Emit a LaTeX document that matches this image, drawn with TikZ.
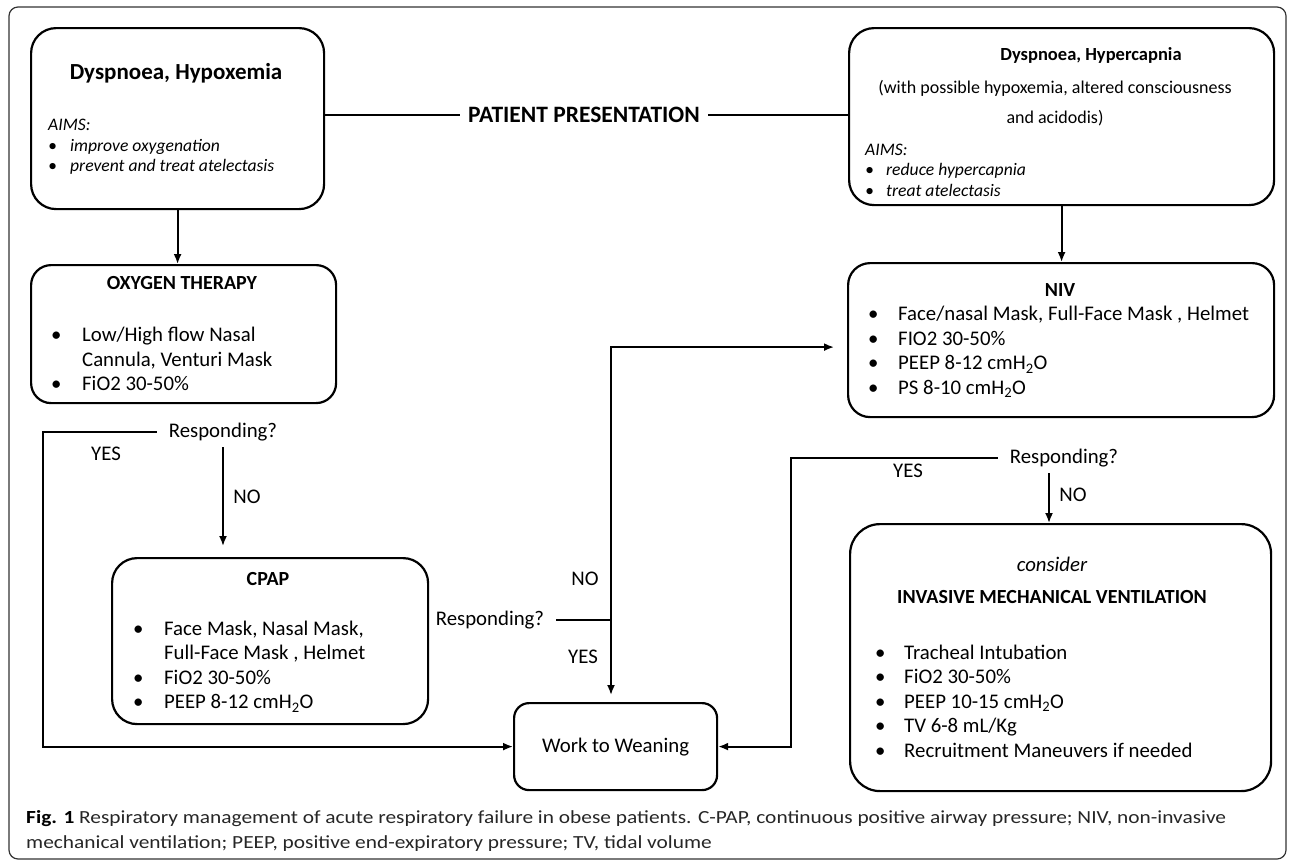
\documentclass[tikz,border=0pt]{standalone}
\usepackage{fontspec}
\setmainfont{Carlito}
\usetikzlibrary{arrows.meta, calc}

% bullet with a fixed indent
\newcommand{\itm}[1][31pt]{\makebox[#1][l]{\textbullet}}

\begin{document}
\begin{tikzpicture}[x=1pt, y=-1pt,
    box/.style={draw, line width=2.2pt, rounded corners=#1, inner sep=0pt, anchor=north west},
    txt/.style={inner sep=0pt, font=\fontsize{20.8}{24.5}\selectfont},
    ttl/.style={inner sep=0pt, font=\bfseries\fontsize{20}{24}\selectfont},
    lst/.style={txt, align=left, anchor=west},
    aims/.style={lst, font=\itshape\fontsize{17.6}{20.5}\selectfont},
    ask/.style={txt, inner xsep=12pt, inner ysep=6pt},
    lin/.style={line width=1.8pt},
    arr/.style={line width=1.8pt, -{Latex[length=10pt, width=8pt]}}]

    \useasboundingbox (0,0) rectangle (1290,862);

    % outer frame
    \draw[line width=1.2pt, black!80, rounded corners=9pt] (9,7) rectangle (1286,859);

    % first presentation
    \node[box=25pt, minimum width=293pt, minimum height=181pt] (hypox) at (30,27) {};
    \node[ttl, font=\bfseries\fontsize{23}{27}\selectfont] (hypoxT) at (176,73) {Dyspnoea, Hypoxemia};
    \node[aims] (hypoxA) at (48,147) {AIMS:\\\itm[22pt]improve oxygenation\\\itm[22pt]prevent and treat atelectasis};

    % second presentation
    \node[box=25pt, minimum width=425pt, minimum height=177pt] (hypercap) at (848,27) {};
    \node[ttl, font=\bfseries\fontsize{18.5}{22}\selectfont] (hypercapT) at (1091,55) {Dyspnoea, Hypercapnia};
    \node[txt, align=center, font=\fontsize{18}{30}\selectfont] (hypercapS) at (1055,103) {(with possible hypoxemia, altered consciousness\\and acidodis)};
    \node[aims] (hypercapA) at (865,170) {AIMS:\\\itm[21pt]reduce hypercapnia\\\itm[21pt]treat atelectasis};

    \node[ttl, font=\bfseries\fontsize{23.5}{27}\selectfont, inner xsep=8pt] (pp) at (584,115) {PATIENT PRESENTATION};

    % oxygen therapy
    \node[box=20pt, minimum width=305pt, minimum height=138pt] (oxy) at (30,264) {};
    \node[ttl] (oxyT) at (182,283) {OXYGEN THERAPY};
    \node[lst] (oxyL) at (51,359) {\itm Low/High flow Nasal\\\hspace*{31pt}Cannula, Venturi Mask\\\itm FiO2 30-50\%};

    \node[ask] (resp1) at (223,432) {Responding?};
    \node[txt] (yes1) at (106,454) {YES};
    \node[txt] (no1) at (247,497) {NO};

    % cpap
    \node[box=25pt, minimum width=316pt, minimum height=166pt] (cpap) at (111,557) {};
    \node[ttl] (cpapT) at (268,579) {CPAP};
    \node[lst] (cpapL) at (133,666.5) {\itm Face Mask, Nasal Mask,\\\hspace*{31pt}Full-Face Mask , Helmet\\\itm FiO2 30-50\%\\\itm PEEP 8-12 cmH\textsubscript{2}O};

    \node[ask] (resp2) at (490,620) {Responding?};
    \node[txt] (no2) at (585,579) {NO};
    \node[txt] (yes2) at (583,657) {YES};

    % weaning
    \node[box=15pt, minimum width=203pt, minimum height=87pt] (work) at (513,702) {};
    \node[txt] (workT) at (work.center) {Work to Weaning};

    % niv
    \node[box=22pt, minimum width=426pt, minimum height=154pt] (niv) at (847,262) {};
    \node[ttl] (nivT) at (1060,290) {NIV};
    \node[lst] (nivL) at (868,352) {\itm[30pt]Face/nasal Mask, Full-Face Mask , Helmet\\\itm[30pt]FIO2 30-50\%\\\itm[30pt]PEEP 8-12 cmH\textsubscript{2}O\\\itm[30pt]PS 8-10 cmH\textsubscript{2}O};

    \node[ask] (resp3) at (1064,458) {Responding?};
    \node[txt] (yes3) at (908,471) {YES};
    \node[txt] (no3) at (1073,495) {NO};

    % invasive ventilation
    \node[box=30pt, minimum width=421pt, minimum height=267pt] (imv) at (849,523) {};
    \node[txt, font=\itshape\fontsize{20.8}{24}\selectfont] (imvC) at (1052,564) {consider};
    \node[ttl] (imvT) at (1052,597) {INVASIVE MECHANICAL VENTILATION};
    \node[lst] (imvL) at (875,701) {\itm[29pt]Tracheal Intubation\\\itm[29pt]FiO2 30-50\%\\\itm[29pt]PEEP 10-15 cmH\textsubscript{2}O\\\itm[29pt]TV 6-8 mL/Kg\\\itm[29pt]Recruitment Maneuvers if needed};

    % caption
    \node[lst, font=\fontsize{18.5}{25}\selectfont, text=black!85] (cap) at (26,830.5) {\scalebox{1.155}[1]{\textbf{\color{black}Fig. 1} Respiratory management of acute respiratory failure in obese patients. C-PAP, continuous positive airway pressure; NIV, non-invasive}\\\scalebox{1.155}[1]{mechanical ventilation; PEEP, positive end-expiratory pressure; TV, tidal volume}};

    % connectors
    \draw[lin] (pp.west -| hypox.east) -- (pp.west);
    \draw[lin] (pp.east) -- (pp.east -| hypercap.west);
    \draw[arr] (hypox.south) -- (hypox.south |- oxy.north);
    \draw[arr] (hypercap.south) -- (hypercap.south |- niv.north);

    \coordinate (yesL) at (43,0);
    \draw[arr] (resp1.west) -- (resp1.west -| yesL) |- (work.west);
    \draw[arr, shorten >=11pt] (resp1.south) -- (resp1.south |- cpap.north);

    \coordinate (junc) at (611,0);
    \coordinate (nivIn) at ($(niv.west)+(0,7)$);
    \draw[lin] (resp2.east) -- (resp2.east -| junc);
    \draw[arr, shorten >=7pt] (resp2.east -| junc) -- (junc |- work.north);
    \draw[arr, shorten >=13pt] (resp2.east -| junc) |- (nivIn);

    \coordinate (yesR) at (791,0);
    \coordinate (noR) at (1049,0);
    \draw[arr] (resp3.west) -- (resp3.west -| yesR) |- (work.east);
    \draw[arr] (resp3.south -| noR) -- (noR |- imv.north);

\end{tikzpicture}
\end{document}
